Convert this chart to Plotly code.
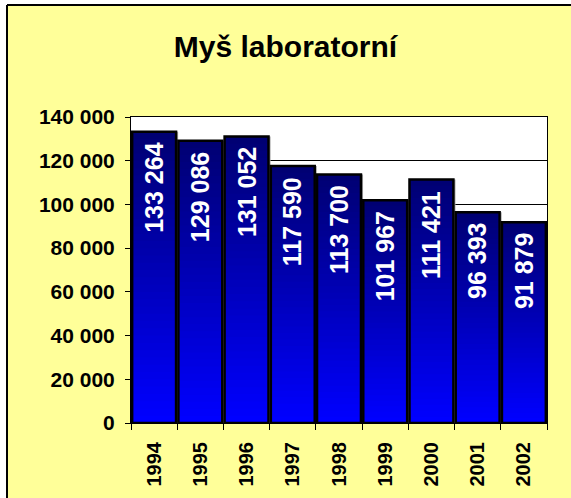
import plotly.graph_objects as go

# Laboratory mouse counts per year
years = ["1994", "1995", "1996", "1997", "1998", "1999", "2000", "2001", "2002"]
counts = [133264, 129086, 131052, 117590, 113700, 101967, 111421, 96393, 91879]
y_ticks = [0, 20000, 40000, 60000, 80000, 100000, 120000, 140000]

FONT = "Arial, Liberation Sans, sans-serif"
BAR_WIDTH = 0.95
N_STEPS = 40
BOTTOM_RGB = (0, 0, 255)
TOP_RGB = (0, 0, 115)

fig = go.Figure()

# soft grey drop shadow to the right of every bar
fig.add_trace(go.Bar(
    x=years, y=counts, width=BAR_WIDTH, offset=-BAR_WIDTH / 2 + 0.045,
    marker=dict(color="#A8A8A8", line=dict(width=0)),
    hoverinfo="skip", showlegend=False,
))

# vertical gradient: each layer starts a bit higher and is a bit darker
for k in range(N_STEPS):
    t = k / (N_STEPS - 1)
    rgb = tuple(round(b + (tp - b) * t) for b, tp in zip(BOTTOM_RGB, TOP_RGB))
    frac = k / N_STEPS
    fig.add_trace(go.Bar(
        x=years,
        base=[v * frac for v in counts],
        y=[v * (1 - frac) for v in counts],
        width=BAR_WIDTH,
        marker=dict(color="rgb(%d,%d,%d)" % rgb, line=dict(width=0)),
        hoverinfo="skip", showlegend=False,
    ))

# black outline on top of the gradient
fig.add_trace(go.Bar(
    x=years, y=counts, width=BAR_WIDTH,
    marker=dict(color="rgba(0,0,0,0)", line=dict(color="black", width=2.5)),
    hoverinfo="skip", showlegend=False,
))

def fmt(v):
    return f"{v:,}".replace(",", " ")

# value labels, written upwards just below each bar top
annotations = [
    dict(x=i, y=v, xref="x", yref="y", text="<b>%s</b>" % fmt(v), textangle=-90,
         showarrow=False, yanchor="top", xanchor="center", yshift=-9,
         font=dict(family=FONT, size=25, color="white"))
    for i, v in enumerate(counts)
]

# white page edge with a black frame around the yellow chart area
FRAME_X = -124 / 416
FRAME_Y = 1 + 112 / 306
shapes = [
    dict(type="rect", xref="paper", yref="paper", layer="below",
         x0=-1, x1=FRAME_X, y0=-1, y1=3, fillcolor="white", line=dict(width=0)),
    dict(type="rect", xref="paper", yref="paper", layer="below",
         x0=-1, x1=3, y0=FRAME_Y, y1=3, fillcolor="white", line=dict(width=0)),
    dict(type="line", xref="paper", yref="paper", layer="below",
         x0=FRAME_X, x1=FRAME_X, y0=-1, y1=FRAME_Y, line=dict(color="black", width=2)),
    dict(type="line", xref="paper", yref="paper", layer="below",
         x0=FRAME_X, x1=3, y0=FRAME_Y, y1=FRAME_Y, line=dict(color="black", width=2)),
]

fig.update_layout(
    width=571, height=498,
    barmode="overlay",
    margin=dict(l=131, r=24, t=117, b=75),
    paper_bgcolor="#FFFF99",
    plot_bgcolor="white",
    separators=", ",
    title=dict(text="<b>Myš laboratorní</b>", x=0.5, xanchor="center",
               y=1 - 46 / 498, yanchor="middle",
               font=dict(family=FONT, size=30, color="black")),
    annotations=annotations,
    shapes=shapes,
    xaxis=dict(
        type="category", range=[-0.5, 8.5],
        showline=True, linecolor="black", linewidth=1, mirror=True,
        ticks="outside", tickson="boundaries", ticklen=6, tickcolor="black",
        tickangle=-90, ticklabelstandoff=10,
        tickfont=dict(family=FONT, size=20, color="black", weight="bold"),
        showgrid=False,
    ),
    yaxis=dict(
        range=[0, 140000], tickvals=y_ticks, tickformat=",d",
        showline=True, linecolor="black", linewidth=1, mirror=True,
        ticks="outside", ticklen=5, tickcolor="black", ticklabelstandoff=6,
        tickfont=dict(family=FONT, size=21, color="black", weight="bold"),
        showgrid=True, gridcolor="black", gridwidth=1, zeroline=False,
    ),
)

fig.write_html("out.html")
